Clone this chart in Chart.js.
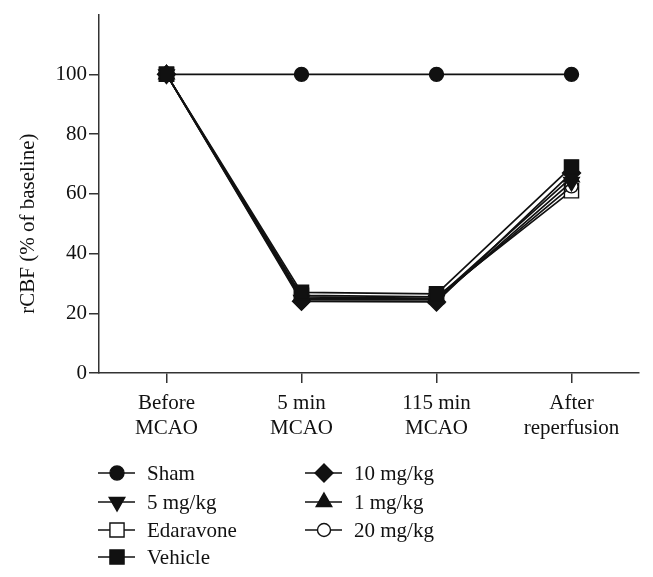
<!DOCTYPE html>
<html>
<head>
<meta charset="utf-8">
<script src="https://cdn.jsdelivr.net/npm/chart.js@4/dist/chart.umd.min.js"></script>
<style>
  html, body { margin: 0; padding: 0; background: #fff; }
  #wrap { width: 653px; height: 577px; }
</style>
</head>
<body>
<div id="wrap"><canvas id="c" width="653" height="577"></canvas></div>
<script>
// ---- data ----
const categories = [["Before", "MCAO"], ["5 min", "MCAO"], ["115 min", "MCAO"], ["After", "reperfusion"]];
const yTickValues = [0, 20, 40, 60, 80, 100];
const seriesNames = ["Sham", "5 mg/kg", "Edaravone", "Vehicle", "10 mg/kg", "1 mg/kg", "20 mg/kg"];
const sham      = [100, 100, 100, 100];
const mg5       = [100, 24.5, 24.5, 64];
const edaravone = [100, 26, 25.5, 61];
const vehicle   = [100, 27, 26.5, 69];
const mg10      = [100, 24, 23.8, 67];
const mg1       = [100, 25.5, 25, 65.5];
const mg20      = [100, 25, 24.8, 62.5];

const FONT = "'Liberation Serif', 'Times New Roman', serif";
const INK = '#111';

const styles = [
  { style: 'circle',   radius: 7,  rot: 0,   fill: INK,    order: 6 },
  { style: 'triangle', radius: 9,  rot: 180, fill: INK,    order: 2 },
  { style: 'rect',     radius: 10, rot: 0,   fill: '#fff', order: 5 },
  { style: 'rect',     radius: 10, rot: 0,   fill: INK,    order: 0 },
  { style: 'rectRot',  radius: 9,  rot: 0,   fill: INK,    order: 1 },
  { style: 'triangle', radius: 9,  rot: 0,   fill: INK,    order: 3 },
  { style: 'circle',   radius: 6.5,rot: 0,   fill: '#fff', order: 4 }
];
const values = [sham, mg5, edaravone, vehicle, mg10, mg1, mg20];

const datasets = values.map((v, i) => ({
  label: seriesNames[i],
  data: v,
  order: styles[i].order,
  borderColor: INK,
  borderWidth: 1.7,
  pointStyle: styles[i].style,
  pointRadius: styles[i].radius,
  pointRotation: styles[i].rot,
  pointBackgroundColor: styles[i].fill,
  pointBorderColor: INK,
  pointBorderWidth: 1.4,
  tension: 0
}));

function drawMarker(ctx, s, x, y) {
  ctx.save();
  ctx.fillStyle = s.fill;
  ctx.strokeStyle = INK;
  ctx.lineWidth = 1.4;
  ctx.beginPath();
  const r = s.radius;
  if (s.style === 'circle') {
    ctx.arc(x, y, r, 0, Math.PI * 2);
  } else if (s.style === 'rect') {
    const h = Math.SQRT1_2 * r;
    ctx.rect(x - h, y - h, 2 * h, 2 * h);
  } else if (s.style === 'rectRot') {
    ctx.moveTo(x - r, y); ctx.lineTo(x, y - r); ctx.lineTo(x + r, y); ctx.lineTo(x, y + r); ctx.closePath();
  } else if (s.style === 'triangle') {
    const rad = (s.rot || 0) * Math.PI / 180;
    for (let k = 0; k < 3; k++) {
      const a = rad - Math.PI / 2 + k * 2 * Math.PI / 3;
      const px = x + Math.cos(a) * r, py = y + Math.sin(a) * r;
      if (k === 0) ctx.moveTo(px, py); else ctx.lineTo(px, py);
    }
    ctx.closePath();
  }
  ctx.fill();
  ctx.stroke();
  ctx.restore();
}

const extras = {
  id: 'extras',
  afterDraw(chart) {
    const ctx = chart.ctx;
    const ys = chart.scales.y;
    // y-axis title centred on the 0-100 range
    ctx.save();
    ctx.font = '21px ' + FONT;
    ctx.fillStyle = INK;
    ctx.textAlign = 'center';
    ctx.textBaseline = 'middle';
    ctx.translate(28, ys.getPixelForValue(50));
    ctx.rotate(-Math.PI / 2);
    ctx.fillText('rCBF (% of baseline)', 0, 0);
    ctx.restore();
    // legend: two columns
    const cols = [{ x: 98, items: [0, 1, 2, 3] }, { x: 305, items: [4, 5, 6] }];
    const rowsY = [473, 502, 530, 557];
    ctx.save();
    ctx.font = '21px ' + FONT;
    ctx.fillStyle = INK;
    ctx.textAlign = 'left';
    ctx.textBaseline = 'middle';
    cols.forEach(col => {
      col.items.forEach((idx, r) => {
        const y = rowsY[r];
        ctx.strokeStyle = INK;
        ctx.lineWidth = 1.6;
        ctx.beginPath();
        ctx.moveTo(col.x, y);
        ctx.lineTo(col.x + 37, y);
        ctx.stroke();
        drawMarker(ctx, styles[idx], col.x + 19, y);
        ctx.fillStyle = INK;
        ctx.fillText(seriesNames[idx], col.x + 49, y + 1);
      });
    });
    ctx.restore();
  }
};

new Chart(document.getElementById('c'), {
  type: 'line',
  data: { labels: categories, datasets },
  options: {
    responsive: false,
    animation: false,
    devicePixelRatio: 1,
    layout: { padding: { top: 14, right: 14, left: 0, bottom: 124 } },
    plugins: { legend: { display: false }, tooltip: { enabled: false } },
    scales: {
      x: {
        type: 'category',
        offset: true,
        afterFit: s => { s.height = 80; },
        grid: { display: true, drawOnChartArea: false, drawTicks: true, tickLength: 10, color: '#333', lineWidth: 1.5, offset: false },
        border: { display: true, color: '#333', width: 1.5 },
        ticks: { color: INK, font: { family: FONT, size: 21, lineHeight: 1.2 }, padding: 8, maxRotation: 0, autoSkip: false }
      },
      y: {
        min: 0,
        max: 120,
        afterFit: s => { s.width = 99; },
        afterBuildTicks: s => { s.ticks = yTickValues.map(v => ({ value: v })); },
        grid: { display: true, drawOnChartArea: false, drawTicks: true, tickLength: 10, color: '#333', lineWidth: 1.5 },
        border: { display: true, color: '#333', width: 1.5 },
        ticks: { color: INK, font: { family: FONT, size: 21 }, padding: 2 }
      }
    }
  },
  plugins: [extras]
});
</script>
</body>
</html>
